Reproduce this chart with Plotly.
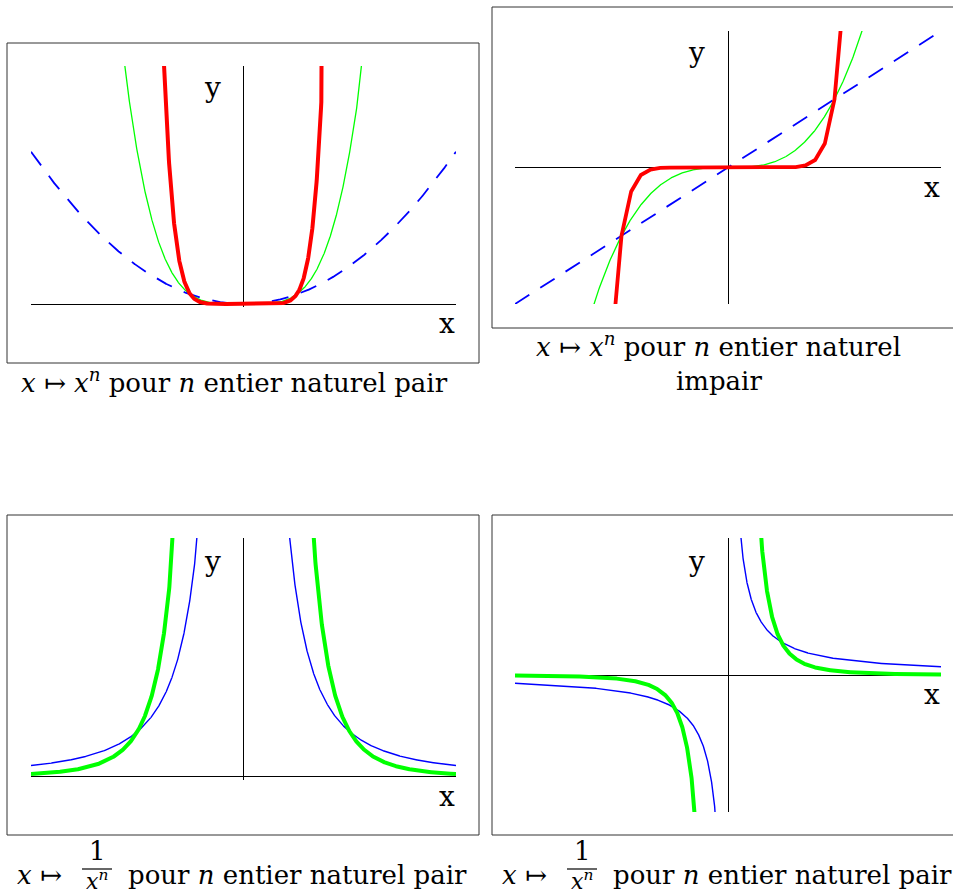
import numpy as np
import plotly.graph_objects as go

W, H = 953, 896

# ---------------- data ----------------
# panel 1 : x -> x^n, n even
p1_exponents = [2, 4, 8]
p1_xrange = [-4, 4]
p1_yrange = [-0.315, 25]
# panel 2 : x -> x^n, n odd
p2_exponents = [1, 3, 11]
p2_xrange = [-2, 2]
p2_yrange = [-2, 2]
p2_coarse_samples = 45          # the red curve is drawn with few sample points
# panel 3 : x -> 1/x^n, n even
p3_exponents = [2, 4]
p3_xrange = [-2, 2]
p3_yrange = [-0.07, 5.3]
# panel 4 : x -> 1/x^n, n odd
p4_exponents = [1, 3]
p4_xrange = [-4, 4]
p4_yrange = [-4.15, 4.15]

caption_main = "pour <i>n</i> entier naturel pair"
caption_p1 = "<i>x</i> ↦ <i>x</i><sup><i>n</i></sup> pour <i>n</i> entier naturel pair"
caption_p2_l1 = "<i>x</i> ↦ <i>x</i><sup><i>n</i></sup> pour <i>n</i> entier naturel"
caption_p2_l2 = "impair"

BLUE, GREEN, RED = "#0000ff", "#00ff00", "#ff0000"
SERIF = "DejaVu Serif"


def px(x):
    return x / W


def py(y):
    return 1 - y / H


fig = go.Figure()


def line(xs, ys, color, width, dash="solid", ax=""):
    fig.add_trace(go.Scatter(x=xs, y=ys, mode="lines",
                             line=dict(color=color, width=width, dash=dash),
                             xaxis="x" + ax, yaxis="y" + ax,
                             hoverinfo="skip", showlegend=False))


# panel 1
xs1 = np.linspace(p1_xrange[0], p1_xrange[1], 1601)
styles1 = [(BLUE, 1.8, "17px,13px"), (GREEN, 1.3, "solid"), (RED, 4, "solid")]
for n, (c, w, d) in zip(p1_exponents, styles1):
    line(xs1, xs1 ** n, c, w, d, "")

# panel 2
xs2 = np.linspace(p2_xrange[0], p2_xrange[1], 801)
xs2c = np.linspace(p2_xrange[0], p2_xrange[1], p2_coarse_samples)
line(xs2, xs2 ** p2_exponents[0], BLUE, 1.8, "17px,13px", "2")
line(xs2, xs2 ** p2_exponents[1], GREEN, 1.3, "solid", "2")
line(xs2c, xs2c ** p2_exponents[2], RED, 3.8, "solid", "2")

# panel 3
for n, (c, w) in zip(p3_exponents, [(BLUE, 1.4), (GREEN, 4)]):
    right = np.linspace(0.3, p3_xrange[1], 800)
    left = -right[::-1]
    xs = np.concatenate([left, [np.nan], right])
    line(xs, 1 / xs ** n, c, w, "solid", "3")

# panel 4
for n, (c, w) in zip(p4_exponents, [(BLUE, 1.4), (GREEN, 4)]):
    right = np.linspace(0.15, p4_xrange[1], 1200)
    left = -right[::-1]
    xs = np.concatenate([left, [np.nan], right])
    line(xs, 1 / xs ** n, c, w, "solid", "4")


def axis(dom, rng, anchor):
    return dict(domain=dom, range=rng, anchor=anchor, showgrid=False,
                zeroline=True, zerolinecolor="black", zerolinewidth=1,
                showticklabels=False, ticks="", showline=False, fixedrange=True)


# plot areas in pixels (left, right, top, bottom)
areas = {
    "": (31, 456, 66, 307),
    "2": (515, 941, 31, 304),
    "3": (31, 456, 538, 780),
    "4": (515, 941, 538, 812),
}
ranges = {"": (p1_xrange, p1_yrange), "2": (p2_xrange, p2_yrange),
          "3": (p3_xrange, p3_yrange), "4": (p4_xrange, p4_yrange)}
lay = {}
for k, (l, r, t, b) in areas.items():
    xr, yr = ranges[k]
    lay["xaxis" + k] = axis([px(l), px(r)], xr, "y" + k)
    lay["yaxis" + k] = axis([py(b), py(t)], yr, "x" + k)

shapes = []
# panel frames
for (l, r, t, b) in [(7, 479, 43, 363), (492, 960, 7, 328), (7, 479, 515, 835), (492, 960, 515, 835)]:
    shapes.append(dict(type="rect", xref="paper", yref="paper",
                       x0=px(l), x1=px(r), y0=py(b), y1=py(t),
                       line=dict(color="#333333", width=1)))
# fraction bars
for (l, r, y) in [(82, 112, 869), (567, 597, 869)]:
    shapes.append(dict(type="line", xref="paper", yref="paper",
                       x0=px(l), x1=px(r), y0=py(y), y1=py(y),
                       line=dict(color="black", width=1.2)))

annotations = []


def text(t, x, y, size=26, xanchor="center", yanchor="middle", family=SERIF):
    annotations.append(dict(text=t, x=px(x), y=py(y), xref="paper", yref="paper",
                            showarrow=False, xanchor=xanchor, yanchor=yanchor,
                            font=dict(family=family, size=size, color="black")))


# axis labels
for (x, y) in [(212, 87), (696, 52), (212, 561), (696, 561)]:
    text("y", x, y, size=28)
for (x, y) in [(447, 324), (932, 187), (447, 796), (932, 694)]:
    text("x", x, y, size=28)

# captions
text(caption_p1, 234, 381)
text(caption_p2_l1, 718, 345)
text(caption_p2_l2, 719, 381)
for off in (0, 485):
    text("<i>x</i> ↦", 15 + off, 875, xanchor="left")
    text("1", 97 + off, 868, yanchor="bottom")
    text("<i>x</i><sup><i>n</i></sup>", 97 + off, 896, size=22, yanchor="bottom")
    text(caption_main, 126 + off, 875, xanchor="left")

fig.update_layout(width=W, height=H, autosize=False,
                  margin=dict(l=0, r=0, t=0, b=0),
                  paper_bgcolor="white", plot_bgcolor="white",
                  shapes=shapes, annotations=annotations, **lay)

fig.write_html("out.html", config={"displayModeBar": False},
               post_script="document.body.style.margin='0';")
